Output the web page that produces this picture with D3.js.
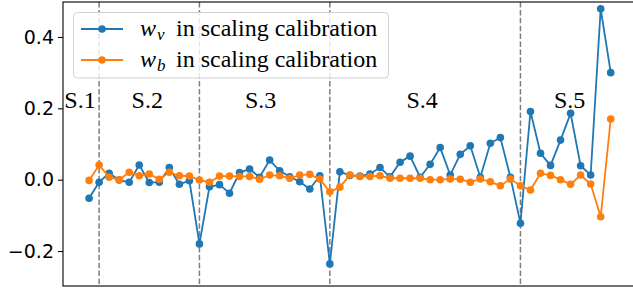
<!DOCTYPE html>
<html>
<head>
<meta charset="utf-8">
<script src="https://cdn.jsdelivr.net/npm/d3@7"></script>
<style>
  body { margin: 0; background: #fff; }
  svg { display: block; }
</style>
</head>
<body>
<div id="chart"></div>
<script>
var width = 633,
    height = 288;

// w_v and w_b values, one per calibration step
var wv = [
  -0.052, -0.007, 0.018, -0.001, -0.007, 0.041, -0.008, -0.007, 0.034, -0.013,
  -0.003, -0.180, -0.020, -0.014, -0.038, 0.020, 0.030, 0.007, 0.055, 0.025,
  0.008, -0.006, -0.026, 0.011, -0.236, 0.022, 0.012, 0.010, 0.016, 0.034,
  0.008, 0.049, 0.066, 0.007, 0.043, 0.090, 0.013, 0.071, 0.095, 0.007,
  0.102, 0.118, 0.007, -0.122, 0.191, 0.074, 0.040, 0.111, 0.186, 0.039,
  0.013, 0.479, 0.300
];
var wb = [
  -0.002, 0.041, 0.007, 0.000, 0.021, 0.011, 0.016, 0.001, 0.021, 0.011,
  0.010, -0.001, -0.007, 0.010, 0.010, 0.009, 0.009, 0.001, 0.013, 0.011,
  0.004, 0.013, 0.015, 0.002, -0.034, -0.021, 0.013, 0.009, 0.009, 0.011,
  0.004, 0.004, 0.004, 0.004, 0.000, 0.000, 0.002, 0.001, -0.007, 0.002,
  -0.006, -0.017, 0.002, -0.017, -0.029, 0.018, 0.012, 0.000, -0.013, 0.013,
  -0.012, -0.104, 0.170
];
var boundaries = [1, 11, 24, 43];
var stageNames = ['S.1', 'S.2', 'S.3', 'S.4', 'S.5'];
var stagePos = [-0.9, 5.8, 17.1, 33.2, 47.9];
var yTicks = [-0.2, 0.0, 0.2, 0.4];
var seriesNames = ['v', 'b'];

var blue = '#1f77b4', orange = '#ff7f0e';

var x = d3.scaleLinear().domain([-2.6, 54.6]).range([63, 636.8]);
var y = d3.scaleLinear().domain([-0.298, 0.498]).range([286, 2]);

var svg = d3.select('#chart').append('svg')
    .attr('width', width)
    .attr('height', height);

// dashed stage boundaries
svg.selectAll('line.bound')
    .data(boundaries)
    .enter().append('line')
    .attr('class', 'bound')
    .attr('x1', function(d){ return x(d); })
    .attr('x2', function(d){ return x(d); })
    .attr('y1', y.range()[1])
    .attr('y2', y.range()[0])
    .attr('stroke', '#7f7f7f')
    .attr('stroke-width', 1.5)
    .attr('stroke-dasharray', '5.5,2.4');

// stage labels
svg.selectAll('text.stage')
    .data(stageNames)
    .enter().append('text')
    .attr('class', 'stage')
    .attr('x', function(d, i){ return x(stagePos[i]); })
    .attr('y', y(0.2))
    .attr('text-anchor', 'middle')
    .style('font-family', '"Liberation Serif", serif')
    .style('font-size', '24px')
    .text(function(d){ return d; });

var line = d3.line()
    .x(function(d, i){ return x(i); })
    .y(function(d){ return y(d); });

function drawSeries(data, color){
    svg.append('path')
        .datum(data)
        .attr('d', line)
        .attr('fill', 'none')
        .attr('stroke', color)
        .attr('stroke-width', 1.8);
    svg.append('g').selectAll('circle')
        .data(data)
        .enter().append('circle')
        .attr('cx', function(d, i){ return x(i); })
        .attr('cy', function(d){ return y(d); })
        .attr('r', 3.8)
        .attr('fill', color);
}
drawSeries(wv, blue);
drawSeries(wb, orange);

// y axis
var yAxis = d3.axisLeft(y)
    .tickValues(yTicks)
    .tickSize(5)
    .tickFormat(function(d){ return d3.format('.1f')(d).replace('-', '\u2212'); });
var gy = svg.append('g')
    .attr('transform', 'translate(' + x.range()[0] + ',0)')
    .call(yAxis);
gy.select('.domain').remove();
gy.selectAll('line').attr('stroke', '#000').attr('stroke-width', 1.1);
gy.selectAll('text')
    .attr('x', -9)
    .style('font-family', '"DejaVu Sans", sans-serif')
    .style('font-size', '19px')
    .attr('fill', '#000');

// frame
svg.append('rect')
    .attr('x', x.range()[0])
    .attr('y', y.range()[1])
    .attr('width', x.range()[1] - x.range()[0])
    .attr('height', y.range()[0] - y.range()[1])
    .attr('fill', 'none')
    .attr('stroke', '#000')
    .attr('stroke-width', 1.1);

// legend
var legend = svg.append('g');
legend.append('rect')
    .attr('x', 73.5).attr('y', 12.5)
    .attr('width', 315).attr('height', 65.5)
    .attr('rx', 4)
    .attr('fill', '#fff').attr('fill-opacity', 0.8)
    .attr('stroke', '#d0d0d0');

var rows = legend.selectAll('g.row')
    .data(seriesNames)
    .enter().append('g')
    .attr('class', 'row')
    .attr('transform', function(d, i){ return 'translate(0,' + (29 + i * 31) + ')'; });
rows.append('line')
    .attr('x1', 81).attr('x2', 123)
    .attr('stroke', function(d, i){ return i ? orange : blue; })
    .attr('stroke-width', 1.8);
rows.append('circle')
    .attr('cx', 102).attr('r', 3.8)
    .attr('fill', function(d, i){ return i ? orange : blue; });
var lt = rows.append('text')
    .attr('x', 140).attr('y', 6.5)
    .style('font-family', '"Liberation Serif", serif')
    .style('font-size', '24px');
lt.append('tspan').style('font-style', 'italic').text('w');
lt.append('tspan').style('font-style', 'italic').style('font-size', '17px')
    .attr('dx', 1).attr('dy', 4).text(function(d){ return d; });
lt.append('tspan').attr('x', 176).attr('dy', -4).text('in scaling calibration');
</script>
</body>
</html>
